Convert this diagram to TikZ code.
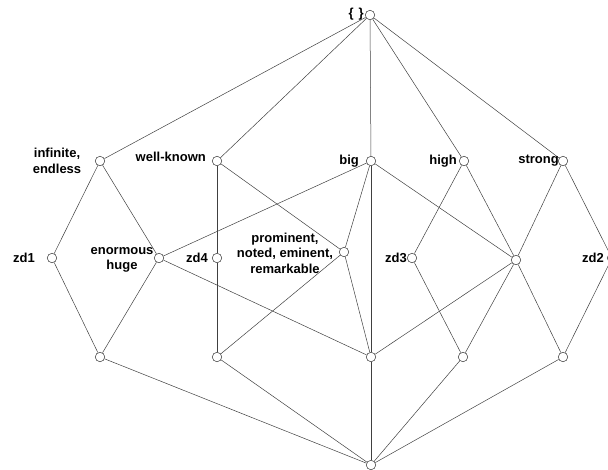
\documentclass[tikz,border=0pt]{standalone}
\usepackage{fontspec}
\setmainfont{Liberation Sans}
\begin{document}
\begin{tikzpicture}[x=1pt,y=-1pt,
  pt/.style={circle,draw=black!80,fill=white,line width=0.5pt,minimum size=9.5pt,inner sep=0pt},
  lbl/.style={inner sep=0pt,font=\fontsize{13}{15.5}\selectfont\bfseries,align=center},
  edge/.style={draw=black!75,line width=0.5pt}]
\useasboundingbox (0,0) rectangle (608,469);
% concept nodes
\node[pt] (top) at (370,15) {};
\node[pt] (inf) at (100,161) {};
\node[pt] (wk) at (217,161) {};
\node[pt] (big) at (371,161) {};
\node[pt] (high) at (464,161) {};
\node[pt] (strong) at (563,161) {};
\node[pt] (zd1) at (52,258) {};
\node[pt] (enorm) at (159,258) {};
\node[pt] (zd4) at (217,258) {};
\node[pt] (prom) at (344,252) {};
\node[pt] (zd3) at (412,258) {};
\node[pt] (mid) at (516,260) {};
\node[pt] (zd2) at (612,258) {};
\node[pt] (b1) at (100,357) {};
\node[pt] (b2) at (217,357) {};
\node[pt] (b3) at (371,357) {};
\node[pt] (b4) at (463,357) {};
\node[pt] (b5) at (563,357) {};
\node[pt] (bot) at (371,465) {};
% edges
\foreach \a/\b in {top/inf,top/wk,top/big,top/high,top/strong,
  inf/zd1,inf/enorm,wk/zd4,wk/prom,
  big/enorm,big/prom,big/b3,big/mid,
  high/zd3,high/mid,strong/mid,strong/zd2,
  zd1/b1,enorm/b1,enorm/b3,zd4/b2,prom/b2,prom/b3,
  zd3/b4,mid/b3,mid/b4,mid/b5,zd2/b5,
  b1/bot,b2/bot,b3/bot,b4/bot,b5/bot}
  \draw[edge] (\a) -- (\b);
% labels
\node[lbl,anchor=east] (ltop) at (364,14) {\{\kern5pt\}};
\node[lbl] (linf) at (57,161) {infinite,\\endless};
\node[lbl,anchor=east] (lwk) at (206,157) {well-known};
\node[lbl,anchor=east] (lbig) at (359,161) {big};
\node[lbl,anchor=east] (lhigh) at (457,161) {high};
\node[lbl,anchor=east] (lstrong) at (559,161) {strong};
\node[lbl,anchor=east] (lzd1) at (35,258) {zd1};
\node[lbl] (lenorm) at (122,260) {enormous\\huge};
\node[lbl,anchor=east] (lzd4) at (208,258) {zd4};
\node[lbl] (lprom) at (285,253) {prominent,\\noted, eminent,\\remarkable};
\node[lbl,anchor=east] (lzd3) at (407,258) {zd3};
\node[lbl,anchor=east] (lzd2) at (604,258) {zd2};
\end{tikzpicture}
\end{document}
